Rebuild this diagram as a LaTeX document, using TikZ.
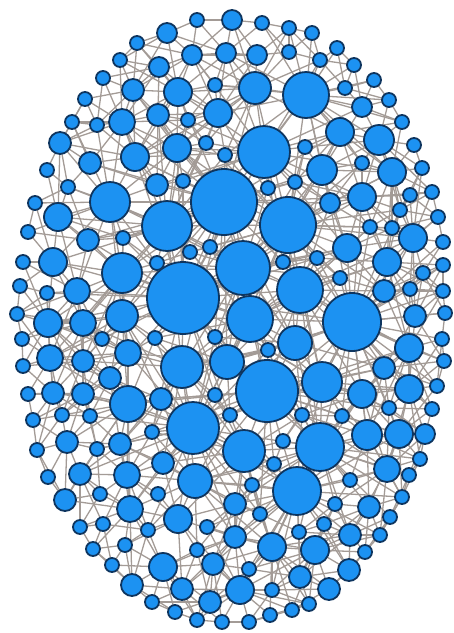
\documentclass[tikz,border=0pt]{standalone}
\usepackage{xcolor}
\definecolor{cNode}{HTML}{1C92F2}
\definecolor{cRim}{HTML}{0E355F}
\definecolor{cLink}{HTML}{A39B96}
\usepackage{tikz}
\usetikzlibrary{backgrounds}
\tikzset{
  node-vert/.style={circle,draw=cRim,line width=1.8pt,fill=cNode,
    inner sep=0pt,outer sep=0pt},
  edge-link/.style={draw=cLink,line width=1.3pt},
}

\begin{document}
\begin{tikzpicture}[x=1pt,y=-1pt]
  \useasboundingbox (0,0) rectangle (454,633);
  % vertices: x / y / radius, ordered top to bottom
  \foreach \vx/\vy/\vr [count=\i] in {
    197/20/7, 232/20/10, 262/23/7, 289/28/7, 312/33/7, 167/33/10, 137/43/7,
    337/48/7, 289/52/7, 192/55/10, 226/53/10, 257/55/10, 120/60/7, 320/60/7,
    354/65/7, 159/67/10, 103/78/7, 374/80/7, 215/85/7, 345/88/7, 133/90/11,
    178/92/14, 255/88/16, 306/95/23, 85/99/7, 389/100/7, 362/107/10,
    218/113/14, 158/115/11, 188/120/7, 122/122/13, 72/122/7, 97/125/7,
    402/122/7, 340/132/14, 379/140/15, 60/143/11, 206/143/7, 414/145/7,
    305/147/7, 177/148/14, 264/152/26, 135/157/14, 225/155/7, 90/163/11,
    362/163/7, 47/170/7, 322/170/15, 392/172/14, 422/168/7, 183/181/7,
    157/185/11, 68/187/7, 268/188/7, 295/182/7, 432/192/7, 410/195/7,
    362/197/14, 330/203/10, 224/202/33, 110/202/20, 35/203/7, 400/210/7,
    58/217/14, 438/217/7, 288/225/28, 167/226/25, 370/227/7, 392/228/7,
    28/232/7, 88/240/11, 123/238/7, 413/238/14, 443/242/7, 210/247/7,
    190/252/7, 347/248/14, 23/262/7, 53/262/14, 157/263/7, 243/268/27,
    283/262/7, 317/258/7, 387/262/14, 443/265/7, 423/273/7, 122/273/20,
    340/278/7, 20/286/7, 47/293/7, 77/291/13, 183/298/36, 300/290/23,
    384/291/11, 410/289/7, 443/291/7, 17/314/7, 48/323/14, 83/323/13,
    122/316/16, 250/319/23, 352/322/29, 415/316/11, 445/313/7, 22/339/7,
    102/339/7, 155/338/7, 215/337/7, 295/343/17, 268/350/7, 442/339/7,
    409/348/14, 50/358/13, 83/361/11, 128/353/13, 182/367/21, 227/362/17,
    23/366/7, 444/361/7, 384/368/11, 110/378/11, 322/382/20, 267/391/31,
    409/389/14, 362/394/14, 437/386/7, 28/394/7, 53/393/11, 83/394/11,
    128/404/18, 161/399/11, 215/395/7, 389/408/7, 432/409/7, 302/415/7,
    342/416/7, 230/415/7, 33/420/7, 62/415/7, 90/416/7, 193/428/26,
    152/432/7, 67/442/11, 37/450/7, 97/449/7, 120/444/11, 283/441/7,
    244/451/21, 320/447/24, 367/435/15, 399/434/14, 425/434/10, 420/459/7,
    274/464/7, 163/463/11, 80/474/11, 127/475/13, 48/477/7, 195/481/17,
    387/469/13, 409/475/7, 350/480/7, 252/485/7, 297/491/24, 65/500/11,
    100/494/7, 158/494/7, 402/497/7, 235/504/11, 335/504/7, 369/507/11,
    130/509/13, 260/514/7, 390/517/7, 178/519/14, 80/527/7, 103/524/7,
    148/530/7, 207/527/7, 324/524/7, 299/532/7, 350/535/11, 380/535/7,
    235/537/11, 93/549/7, 125/545/7, 197/550/7, 272/547/14, 315/550/14,
    365/552/7, 163/567/14, 213/564/11, 112/565/7, 249/569/7, 349/570/11,
    300/577/11, 132/585/11, 182/589/11, 240/590/14, 272/590/7, 329/589/11,
    152/602/7, 210/602/11, 309/604/7, 175/612/7, 292/610/7, 197/620/7,
    222/622/7, 270/615/7, 249/622/7} {
    \node[node-vert,minimum size=2*\vr] (n\i) at (\vx,\vy) {};
    \expandafter\xdef\csname px\i\endcsname{\vx}
    \expandafter\xdef\csname py\i\endcsname{\vy}
    \expandafter\xdef\csname pr\i\endcsname{\vr}
  }
  % links between nearby vertices, drawn behind them
  \begin{scope}[on background layer]
    \foreach \i in {1,...,209} {
      \foreach \k in {1,...,60} {
        \pgfmathtruncatemacro\j{\i+\k}
        \ifnum\j<211
          \pgfmathtruncatemacro\ok{and(
            veclen(\csname px\i\endcsname-\csname px\j\endcsname,
                   \csname py\i\endcsname-\csname py\j\endcsname)
            < 3.4*(\csname pr\i\endcsname+\csname pr\j\endcsname),
            mod(mod(\i*\k,97)*7+\i*3+\k*\k,10) < 8)}
          \ifnum\ok=1
            \draw[edge-link] (n\i) -- (n\j);
          \fi
        \fi
      }
    }
  \end{scope}
\end{tikzpicture}
\end{document}
